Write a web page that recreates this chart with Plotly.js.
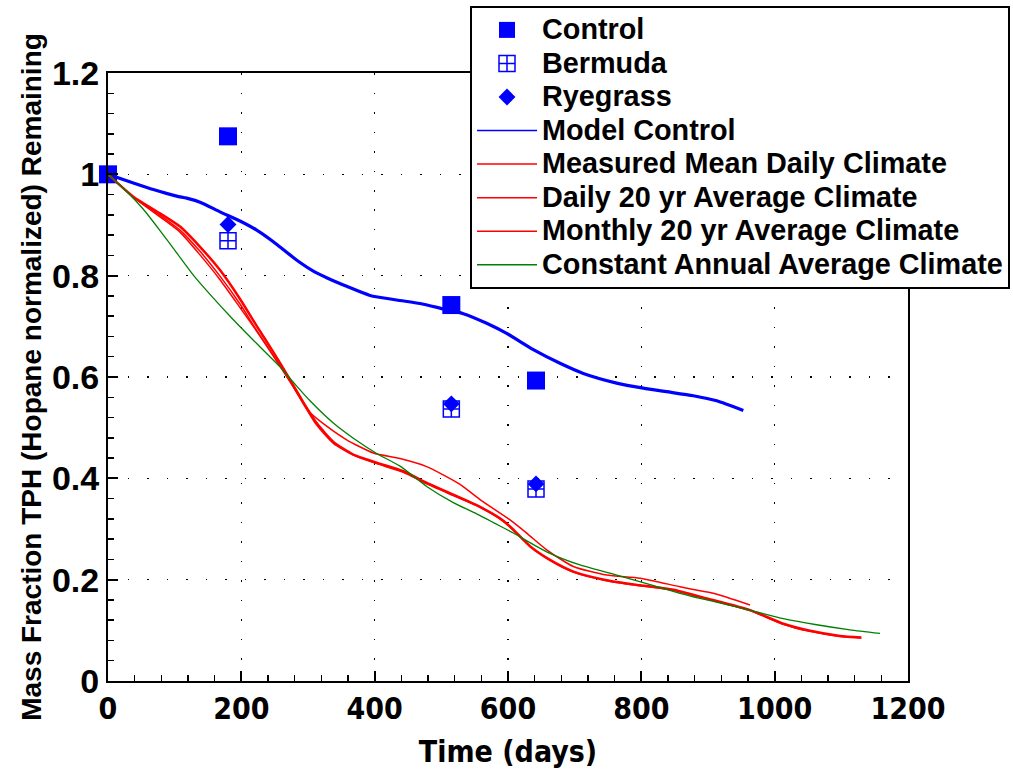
<!DOCTYPE html>
<html>
<head>
<meta charset="utf-8">
<script src="https://cdn.plot.ly/plotly-3.0.1.min.js"></script>
<style>
html,body{margin:0;padding:0;background:#fff;}
#chart{width:1013px;height:772px;}
.legendtext{font-size:28.8px !important;}
.legend .legendlines path{stroke-width:1.5px !important;}
</style>
</head>
<body>
<div id="chart"></div>
<script>
// Observed data
const controlT = [0, 180, 515, 642];
const controlV = [1.0, 1.075, 0.742, 0.593];
const bermudaT = [180, 515, 642];
const bermudaV = [0.869, 0.537, 0.379];
const ryegrassT = [180, 515, 642];
const ryegrassV = [0.901, 0.547, 0.389];

// Model: control
const modelT = [0, 38, 68, 103, 118, 138, 168, 198, 223, 248, 268, 288, 308, 328, 358, 393, 433, 468, 498, 533, 568, 598, 638, 678, 713, 763, 803, 838, 878, 913, 953];
const modelV = [1.0, 0.983, 0.970, 0.957, 0.953, 0.945, 0.926, 0.908, 0.890, 0.867, 0.846, 0.826, 0.809, 0.796, 0.779, 0.761, 0.752, 0.745, 0.736, 0.725, 0.706, 0.686, 0.654, 0.627, 0.607, 0.588, 0.578, 0.571, 0.563, 0.553, 0.534];

// Measured mean daily climate
const measT = [0, 38, 78, 108, 138, 168, 198, 228, 253, 278, 303, 328, 358, 398, 438, 478, 528, 558, 603, 628, 658, 698, 748, 798, 858, 888, 908, 963];
const measV = [1.0, 0.955, 0.916, 0.886, 0.841, 0.792, 0.737, 0.681, 0.632, 0.581, 0.530, 0.503, 0.476, 0.450, 0.439, 0.423, 0.388, 0.358, 0.318, 0.292, 0.259, 0.226, 0.209, 0.203, 0.186, 0.178, 0.173, 0.150];

// Daily 20 yr average climate
const dailyT = [0, 38, 78, 108, 138, 168, 198, 223, 248, 273, 293, 313, 338, 368, 403, 443, 478, 518, 553, 588, 603, 633, 663, 698, 748, 798, 848, 898, 963, 1013, 1053, 1098, 1130];
const dailyV = [1.0, 0.955, 0.919, 0.890, 0.848, 0.799, 0.744, 0.692, 0.642, 0.591, 0.547, 0.505, 0.469, 0.446, 0.429, 0.412, 0.389, 0.366, 0.346, 0.320, 0.304, 0.266, 0.238, 0.215, 0.198, 0.188, 0.179, 0.162, 0.139, 0.112, 0.098, 0.088, 0.085];

// Monthly 20 yr average climate
const monthlyT = [0, 38, 78, 108, 138, 168, 198, 223, 248, 273, 293, 313, 338, 368, 403, 443, 478, 518, 553, 588, 603, 633, 663, 698, 748, 798, 848, 898, 963, 1013, 1053, 1098, 1130];
const monthlyV = [1.0, 0.956, 0.923, 0.897, 0.857, 0.811, 0.754, 0.701, 0.649, 0.595, 0.550, 0.509, 0.472, 0.447, 0.431, 0.414, 0.391, 0.368, 0.347, 0.321, 0.305, 0.266, 0.239, 0.216, 0.199, 0.189, 0.180, 0.163, 0.140, 0.113, 0.099, 0.089, 0.086];

// Constant annual average climate
const constT = [0, 28, 53, 78, 103, 128, 153, 188, 223, 258, 283, 303, 338, 368, 403, 438, 478, 518, 553, 588, 608, 658, 708, 758, 808, 858, 888, 908, 963, 1013, 1063, 1113, 1158];
const constV = [1.0, 0.966, 0.931, 0.889, 0.845, 0.801, 0.763, 0.713, 0.666, 0.620, 0.582, 0.553, 0.509, 0.479, 0.449, 0.424, 0.384, 0.352, 0.330, 0.306, 0.292, 0.255, 0.229, 0.211, 0.192, 0.173, 0.163, 0.157, 0.140, 0.123, 0.111, 0.101, 0.094];

const BLUE = '#0000FF', RED = '#FF0000', GREEN = '#008000';
const SM = 0.6;

const traces = [
  {x: controlT, y: controlV, name: 'Control', mode: 'markers', cliponaxis: false,
   marker: {symbol: 'square', size: 18, color: BLUE}},
  {x: bermudaT, y: bermudaV, name: 'Bermuda', mode: 'markers', cliponaxis: false,
   marker: {symbol: 'square-cross-open', size: 16, color: BLUE, line: {color: BLUE, width: 1.5}}},
  {x: ryegrassT, y: ryegrassV, name: 'Ryegrass', mode: 'markers', cliponaxis: false,
   marker: {symbol: 'diamond', size: 13, color: BLUE}},
  {x: modelT, y: modelV, name: 'Model Control', mode: 'lines', line: {color: BLUE, width: 3.2, shape: 'spline', smoothing: SM}},
  {x: measT, y: measV, name: 'Measured Mean Daily Climate', mode: 'lines', line: {color: RED, width: 1.5, shape: 'spline', smoothing: SM}},
  {x: dailyT, y: dailyV, name: 'Daily 20 yr Average Climate', mode: 'lines', line: {color: RED, width: 1.5, shape: 'spline', smoothing: SM}},
  {x: monthlyT, y: monthlyV, name: 'Monthly 20 yr Average Climate', mode: 'lines', line: {color: RED, width: 2.5, shape: 'spline', smoothing: SM}},
  {x: constT, y: constV, name: 'Constant Annual Average Climate', mode: 'lines', line: {color: GREEN, width: 1.3, shape: 'spline', smoothing: SM}}
];

const ARIAL = 'Liberation Sans, Arial, Helvetica, sans-serif';
const NARROW = 'Liberation Sans Narrow, Arial Narrow, DejaVu Sans Condensed, sans-serif';

const gridStyle = {showgrid: true, gridcolor: '#000', gridwidth: 1.5, griddash: '1.5px,18px'};

const layout = {
  width: 1013, height: 772,
  margin: {l: 108, r: 105, t: 73, b: 91, pad: 0, autoexpand: false},
  paper_bgcolor: '#fff', plot_bgcolor: '#fff',
  showlegend: true,
  xaxis: Object.assign({
    range: [0, 1200], dtick: 200, tick0: 0,
    ticks: 'inside', ticklen: 10, tickwidth: 2, tickcolor: '#000',
    showline: true, linecolor: '#000', linewidth: 2, mirror: true, zeroline: false,
    minor: {dtick: 40, ticks: 'inside', ticklen: 6, tickwidth: 1.5, tickcolor: '#000', showgrid: false},
    tickfont: {family: NARROW, size: 30, color: '#000', weight: 'bold'},
    title: {text: 'Time (days)', font: {family: NARROW, size: 30, color: '#000', weight: 'bold'}, standoff: 16}
  }, gridStyle),
  yaxis: Object.assign({
    range: [0, 1.2], dtick: 0.2, tick0: 0,
    ticks: 'inside', ticklen: 10, tickwidth: 2, tickcolor: '#000',
    showline: true, linecolor: '#000', linewidth: 2, mirror: true, zeroline: false,
    minor: {dtick: 0.04, ticks: 'inside', ticklen: 6, tickwidth: 1.5, tickcolor: '#000', showgrid: false},
    tickfont: {family: ARIAL, size: 34, color: '#000', weight: 'bold'},
    title: {text: 'Mass Fraction TPH (Hopane normalized) Remaining', font: {family: ARIAL, size: 28, color: '#000', weight: 'bold'}, standoff: 2}
  }, gridStyle),
  legend: {
    x: 0.4525, y: 1.11, xanchor: 'left', yanchor: 'top',
    bgcolor: '#fff', bordercolor: '#000', borderwidth: 2,
    font: {family: ARIAL, size: 23.5, color: '#000', weight: 'bold'},
    itemwidth: 60, tracegroupgap: 0
  }
};

Plotly.newPlot('chart', traces, layout, {displayModeBar: false, staticPlot: true});
</script>
</body>
</html>
